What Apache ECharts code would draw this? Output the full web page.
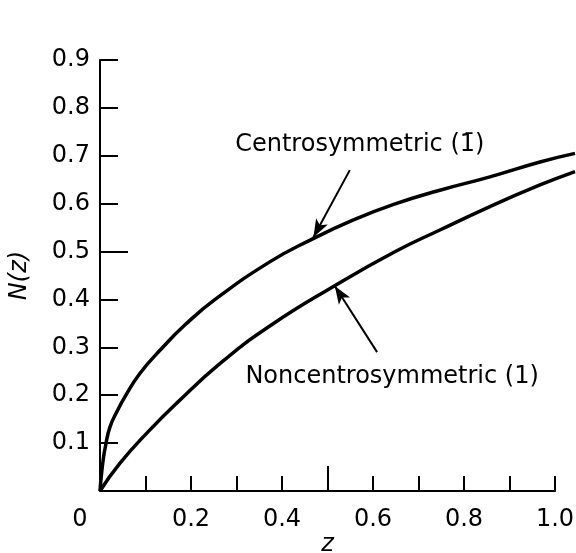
<!DOCTYPE html>
<html>
<head>
<meta charset="utf-8">
<script src="https://cdn.jsdelivr.net/npm/echarts@6/dist/echarts.min.js"></script>
<style>
  html, body { margin: 0; padding: 0; background: #fff; }
  #chart { width: 576px; height: 553px; }
</style>
</head>
<body>
<div id="chart"></div>
<script>
// Cumulative intensity distribution N(z)
const centroZ = [0, 0.002, 0.007, 0.0125, 0.022, 0.039, 0.055, 0.088, 0.136, 0.187, 0.253, 0.374, 0.462, 0.557, 0.647, 0.747, 0.857, 0.967, 1.044];
const centroN = [0, 0.023, 0.065, 0.096, 0.134, 0.169, 0.197, 0.246, 0.298, 0.347, 0.400, 0.479, 0.524, 0.566, 0.599, 0.628, 0.656, 0.687, 0.705];

const acentZ = [0, 0.044, 0.106, 0.168, 0.266, 0.374, 0.513, 0.647, 0.747, 0.857, 0.967, 1.044];
const acentN = [0, 0.058, 0.124, 0.183, 0.268, 0.345, 0.427, 0.499, 0.545, 0.594, 0.639, 0.667];

const xTicks = [0.1, 0.2, 0.3, 0.4, 0.5, 0.6, 0.7, 0.8, 0.9, 1.0];
const xLabels = [0, 0.2, 0.4, 0.6, 0.8, 1.0];
const yTicks = [0.1, 0.2, 0.3, 0.4, 0.5, 0.6, 0.7, 0.8, 0.9];

// Callout labels: text anchor, arrow tail and arrow tip (data units)
const centroLabel = { text: 'Centrosymmetric (1\u0304)', at: [0.571, 0.722], tail: [0.549, 0.670], tip: [0.469, 0.530] };
const acentLabel = { text: 'Noncentrosymmetric (1)', at: [0.642, 0.238], tail: [0.609, 0.290], tip: [0.516, 0.428] };

const FONT = 'DejaVu Sans';
const W = 576, LEFT = 100, RIGHT = 21, TOP = 60, BOTTOM = 62;
const X_MAX = 1.0, Y_MAX = 0.9;
// the curves run on past z = 1.0 up to the right edge of the canvas
const X_MAX_DATA = X_MAX * (W - LEFT) / (W - LEFT - RIGHT);

const pair = (xs, ys) => xs.map((x, i) => [x, ys[i]]);
const near = (a, b) => Math.abs(a - b) < 1e-6;

function callout(c) {
  return {
    markLine: {
      silent: true,
      symbol: ['none', 'arrow'],
      symbolSize: [10, 18],
      label: { show: false },
      lineStyle: { color: '#000', width: 2, type: 'solid' },
      emphasis: { disabled: true },
      data: [[{ coord: c.tail }, { coord: c.tip }]]
    },
    markPoint: {
      silent: true,
      symbol: 'circle',
      symbolSize: 1,
      itemStyle: { color: 'rgba(0,0,0,0)' },
      data: [{
        coord: c.at,
        label: {
          show: true, position: 'inside', formatter: c.text,
          color: '#000', fontFamily: FONT, fontSize: 24
        }
      }]
    }
  };
}

const lineBase = {
  type: 'line',
  xAxisIndex: 2,
  yAxisIndex: 2,
  showSymbol: false,
  smooth: 0.5,
  lineStyle: { color: '#000', width: 3.5 },
  itemStyle: { color: '#000' },
  emphasis: { disabled: true }
};

const hiddenAxis = {
  axisLine: { show: false }, axisLabel: { show: false },
  splitLine: { show: false }, axisTick: { show: false }
};

const tickStyle = { color: '#000', width: 2 };
const gridBase = { top: TOP, bottom: BOTTOM, left: LEFT, containLabel: false, outerBoundsMode: 'none' };

const chart = echarts.init(document.getElementById('chart'));
chart.setOption({
  backgroundColor: '#fff',
  animation: false,
  grid: [
    Object.assign({}, gridBase, { right: RIGHT }),
    Object.assign({}, gridBase, { right: 0 })
  ],
  xAxis: [{
    type: 'value', gridIndex: 0, min: 0, max: X_MAX, interval: 0.1,
    name: 'z', nameLocation: 'middle', nameGap: 42, nameMoveOverlap: false,
    nameTextStyle: { fontFamily: FONT, fontSize: 24, fontStyle: 'italic', color: '#000' },
    axisLine: { show: true, lineStyle: { color: '#000', width: 2 } },
    axisTick: { show: true, inside: true, length: 15, customValues: xTicks.filter(t => !near(t, 0.5)), lineStyle: tickStyle },
    splitLine: { show: false },
    axisLabel: {
      color: '#000', fontFamily: FONT, fontSize: 24, margin: 17,
      showMinLabel: true, showMaxLabel: true,
      formatter: v => {
        if (near(v, 0)) return '{o|0}';
        return xLabels.some(t => near(t, v)) ? v.toFixed(1) : '';
      },
      rich: { o: { fontFamily: FONT, fontSize: 24, color: '#000', padding: [0, 40, 0, 0] } }
    }
  }, Object.assign({}, hiddenAxis, {
    type: 'value', gridIndex: 0, min: 0, max: X_MAX, position: 'bottom',
    axisTick: { show: true, inside: true, length: 25, customValues: [0.5], lineStyle: tickStyle }
  }), Object.assign({}, hiddenAxis, {
    type: 'value', gridIndex: 1, min: 0, max: X_MAX_DATA
  })],
  yAxis: [{
    type: 'value', gridIndex: 0, min: 0, max: Y_MAX, interval: 0.1,
    name: 'N(z)', nameLocation: 'middle', nameGap: 68, nameRotate: 90, nameMoveOverlap: false,
    nameTextStyle: { fontFamily: FONT, fontSize: 24, fontStyle: 'italic', color: '#000' },
    axisLine: { show: true, lineStyle: { color: '#000', width: 2 } },
    axisTick: { show: true, inside: true, length: 18, customValues: yTicks.filter(t => !near(t, 0.5)), lineStyle: tickStyle },
    splitLine: { show: false },
    axisLabel: {
      color: '#000', fontFamily: FONT, fontSize: 24, margin: 10,
      formatter: v => (yTicks.some(t => near(t, v)) ? v.toFixed(1) : '')
    }
  }, Object.assign({}, hiddenAxis, {
    type: 'value', gridIndex: 0, min: 0, max: Y_MAX, position: 'left',
    axisTick: { show: true, inside: true, length: 28, customValues: [0.5], lineStyle: tickStyle }
  }), Object.assign({}, hiddenAxis, {
    type: 'value', gridIndex: 1, min: 0, max: Y_MAX
  })],
  series: [
    Object.assign({}, lineBase, { name: 'Centrosymmetric', data: pair(centroZ, centroN) }, callout(centroLabel)),
    Object.assign({}, lineBase, { name: 'Noncentrosymmetric', data: pair(acentZ, acentN) }, callout(acentLabel))
  ]
});
</script>
</body>
</html>
